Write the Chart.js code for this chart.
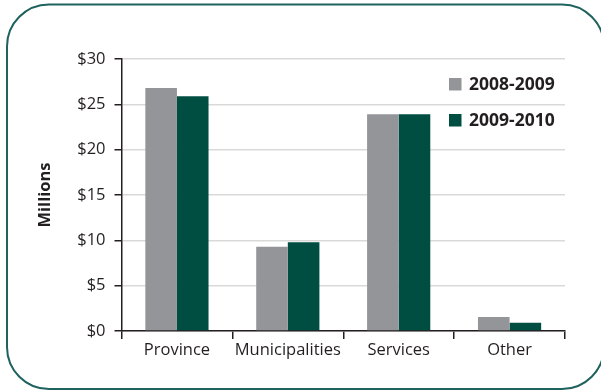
<!DOCTYPE html>
<html>
<head>
<meta charset="utf-8">
<script src="https://cdn.jsdelivr.net/npm/chart.js@4/dist/chart.umd.min.js"></script>
<style>
  html, body { margin: 0; padding: 0; background: #fff; }
  #wrap { width: 601px; height: 392px; position: relative; }
</style>
</head>
<body>
<div id="wrap"><canvas id="revenue"></canvas></div>
<script>
const categories = ["Province", "Municipalities", "Services", "Other"];
const seriesLabels = ["2008-2009", "2009-2010"];
const values2008 = [26.8, 9.3, 23.9, 1.55];
const values2010 = [25.9, 9.8, 23.9, 0.9];
const yTicks = [0, 5, 10, 15, 20, 25, 30];

const GREY = "#939598";
const GREEN = "#004e42";
const INK = "#231f20";
const GRID = "#d9d9d9";

Chart.defaults.font.family = "'Open Sans', sans-serif";
Chart.defaults.color = INK;

// rounded frame around the whole figure
const framePlugin = {
  id: "frame",
  beforeDraw(chart) {
    const ctx = chart.ctx;
    const x = 7, y = 4.5, w = 597, h = 384.5, r = 42;
    ctx.save();
    ctx.strokeStyle = "#1f625e";
    ctx.lineWidth = 2;
    ctx.beginPath();
    ctx.roundRect(x, y, w, h, r);
    ctx.stroke();
    ctx.restore();
  }
};

// legend drawn inside the plot, top right
const insideLegend = {
  id: "insideLegend",
  afterDraw(chart) {
    const ctx = chart.ctx;
    ctx.save();
    chart.data.datasets.forEach((ds, i) => {
      const top = 78 + i * 36;
      ctx.fillStyle = ds.backgroundColor;
      ctx.fillRect(449, top, 12.5, 12.5);
      ctx.fillStyle = INK;
      ctx.font = "bold 17.5px 'Open Sans', sans-serif";
      ctx.textBaseline = "middle";
      ctx.fillText(ds.label, 469, top + 7);
    });
    ctx.restore();
  }
};

new Chart(document.getElementById("revenue"), {
  type: "bar",
  data: {
    labels: categories,
    datasets: [
      { label: seriesLabels[0], data: values2008, backgroundColor: GREY },
      { label: seriesLabels[1], data: values2010, backgroundColor: GREEN }
    ]
  },
  options: {
    responsive: true,
    maintainAspectRatio: false,
    animation: false,
    layout: { padding: { left: 31, right: 36, top: 59, bottom: 21 } },
    datasets: { bar: { categoryPercentage: 0.57, barPercentage: 1.0 } },
    plugins: {
      legend: { display: false },
      tooltip: { enabled: false }
    },
    scales: {
      x: {
        grid: {
          offset: true,
          drawOnChartArea: true,
          color: c => (c.index === categories.length ? GRID : "rgba(0,0,0,0)"),
          lineWidth: 1.5,
          tickColor: INK,
          tickLength: 8
        },
        border: { color: INK, width: 1.5 },
        ticks: {
          font: { size: 16.5 },
          padding: 1,
          color: INK,
          autoSkip: false,
          maxRotation: 0,
          minRotation: 0
        },
        afterFit(scale) { scale.height = 40; }
      },
      y: {
        min: 0,
        max: 30,
        afterBuildTicks(scale) { scale.ticks = yTicks.map(v => ({ value: v })); },
        grid: { color: GRID, lineWidth: 1.5, tickColor: INK, tickLength: 7 },
        border: { color: INK, width: 1.5 },
        ticks: { font: { size: 16.5 }, padding: 9, color: INK, callback: v => "$" + v },
        title: { display: true, text: "Millions", font: { size: 16.5, weight: "bold" }, color: INK, padding: { top: 4, bottom: 0 } },
        afterFit(scale) { scale.width = 90.5; }
      }
    }
  },
  plugins: [framePlugin, insideLegend]
});
</script>
</body>
</html>
